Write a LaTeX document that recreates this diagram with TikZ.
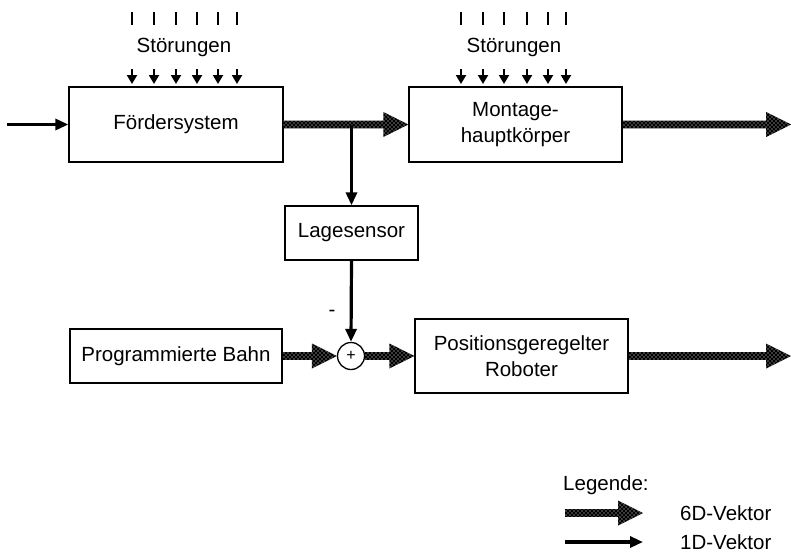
\documentclass[tikz,border=0pt]{standalone}
\usepackage{fontspec}
\setmainfont{Liberation Sans}
\usetikzlibrary{arrows.meta,calc,patterns}
\pgfdeclarepatternformonly{stagdots}{\pgfqpoint{-1pt}{-1pt}}{\pgfqpoint{5pt}{5pt}}{\pgfqpoint{4pt}{4pt}}{%
  \pgfpathcircle{\pgfqpoint{0pt}{0pt}}{0.6pt}%
  \pgfpathcircle{\pgfqpoint{2pt}{2pt}}{0.6pt}%
  \pgfusepath{fill}}
\begin{document}
\begin{tikzpicture}[x=1pt,y=-1pt,
 box/.style={draw,line width=1.3pt,inner sep=0pt,align=center,font=\fontsize{20.5}{26.5}\selectfont},
 lbl/.style={inner sep=0pt,font=\fontsize{20.5}{24}\selectfont},
 oned/.style={line width=3.2pt,-{Triangle[length=13pt,width=11pt]}},
 dist/.style={line width=2pt,-{Triangle[length=9pt,width=10pt]}},
 tickline/.style={line width=2.2pt},
 sixd/.style={fill=black,postaction={pattern=stagdots,pattern color=white},
   to path={($(\tikztostart)+(0,-3.8)$) -- ($(\tikztotarget)+(-25,-3.8)$) -- ($(\tikztotarget)+(-25,-12.5)$) -- (\tikztotarget) -- ($(\tikztotarget)+(-25,12.5)$) -- ($(\tikztotarget)+(-25,3.8)$) -- ($(\tikztostart)+(0,3.8)$) -- cycle}},
]
\useasboundingbox (0,0) rectangle (791,557);

% boxes
\node[box,minimum width=214,minimum height=75] (F) at (176,124.5) {Fördersystem};
\node[box,minimum width=213,minimum height=75] (M) at (515.5,124.5) {Montage-\\hauptkörper};
\node[box,minimum width=133,minimum height=54] (L) at (351.5,233) {Lagesensor};
\node[box,minimum width=212,minimum height=54] (P) at (176,356) {Programmierte Bahn};
\node[box,minimum width=213,minimum height=74] (R) at (521.5,356) {Positionsgeregelter\\Roboter};
\node[draw,circle,line width=1.3pt,minimum size=27,inner sep=0pt,font=\fontsize{16}{16}\selectfont] (S) at (351,356) {+};

% disturbances
\foreach \x in {132,154,176,197,218,237,461,483,504,527,548,566}{
  \draw[tickline] (\x,12) -- (\x,25);
  \draw[dist] (\x,69) -- (\x,84);
}
\node[lbl] (st1) at (184,47) {Störungen};
\node[lbl] (st2) at (514,47) {Störungen};

% connectors
\coordinate (in) at (7,124.5);
\draw[oned] (in) -- (F.west);
\path[sixd] (F.east) to (M.west);
\coordinate (j) at (L.north |- F.east);
\draw[oned] (j) -- (L.north);
\coordinate (out1) at (791,124.5);
\path[sixd] (M.east) to (out1);
\draw[oned] (L.south) -- (S.north);
\node[lbl] (minus) at (332,313) {-};
\path[sixd] (P.east) to (S.west);
\path[sixd] (S.east) to (R.west);
\coordinate (out2) at (791,356);
\path[sixd] (R.east) to (out2);

% legend
\node[lbl,anchor=west] (leg) at (563,485) {Legende:};
\coordinate (l1s) at (565,513);
\coordinate (l1e) at (643,513);
\coordinate (l2s) at (565,542);
\coordinate (l2e) at (643,542);
\path[sixd] (l1s) to (l1e);
\draw[oned] (l2s) -- (l2e);
\node[lbl,anchor=west] (t6) at (680,513) {6D-Vektor};
\node[lbl,anchor=west] (t1) at (680,542) {1D-Vektor};
\end{tikzpicture}
\end{document}
